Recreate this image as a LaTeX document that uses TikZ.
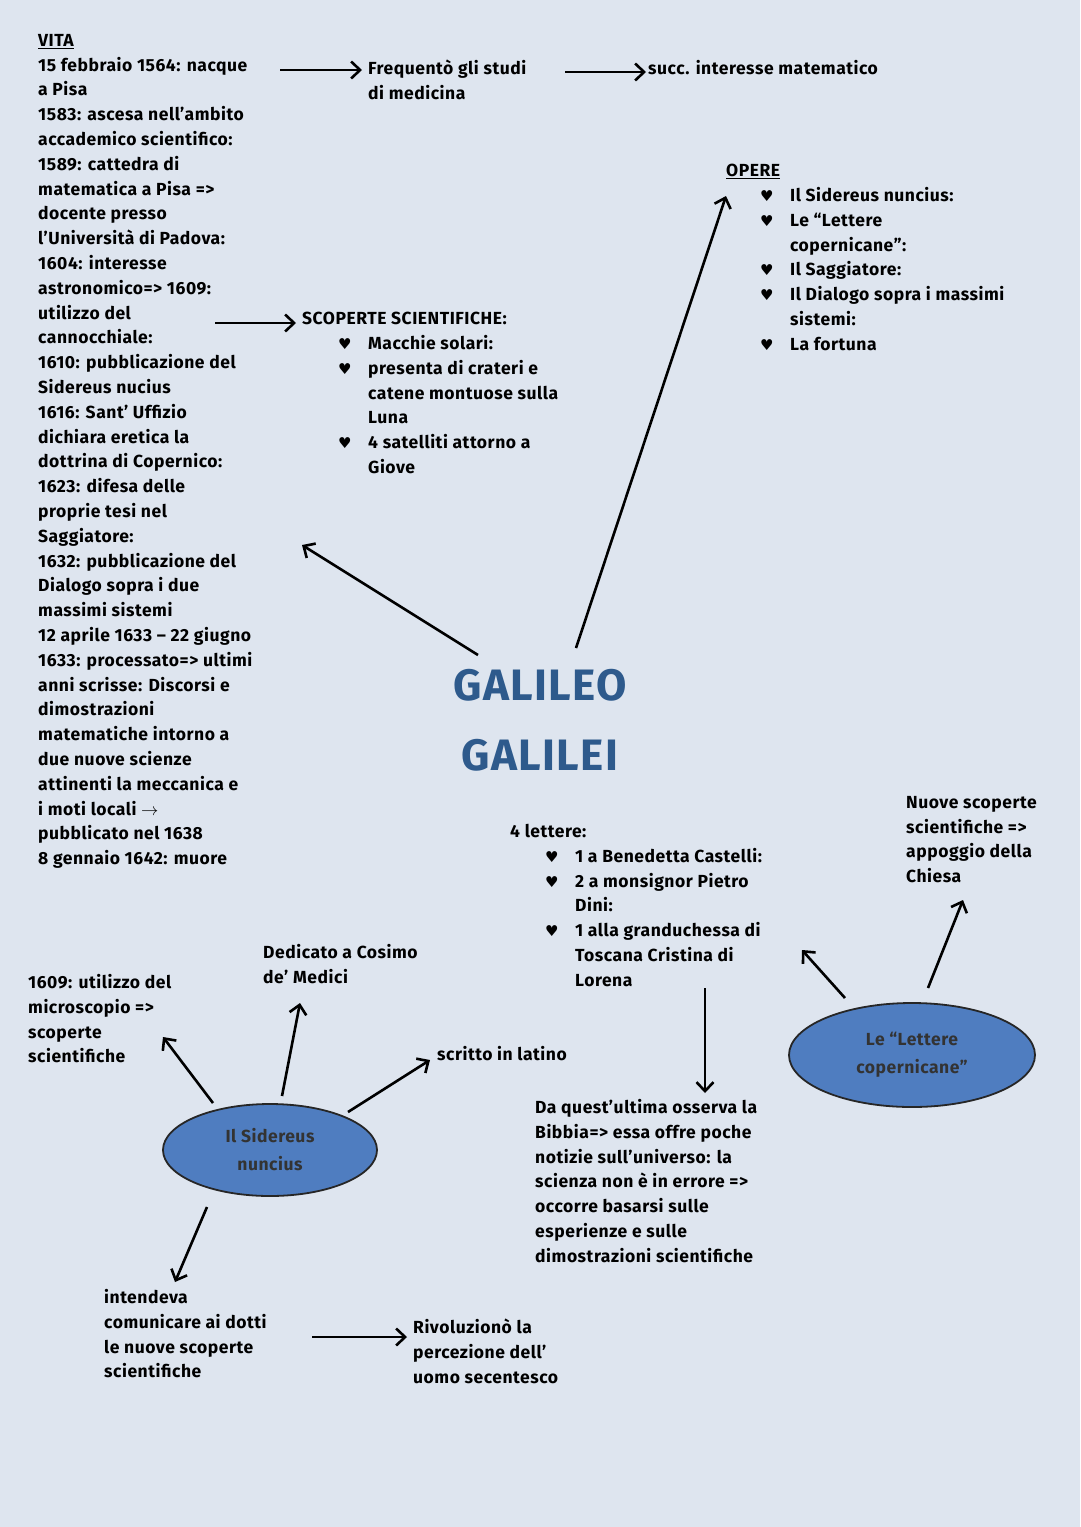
\documentclass[tikz,border=0pt]{standalone}
\usepackage{fontspec}
\setmainfont{Fira Sans}[LetterSpace=3]
\newfontfamily\symfont{DejaVu Sans}
\usetikzlibrary{arrows.meta,shapes.geometric}
\definecolor{bgblue}{HTML}{DEE5EF}
\definecolor{ellblue}{HTML}{4F7DC0}
\definecolor{titleblue}{HTML}{2E5A8C}
\newcommand{\bl}{\makebox[30pt][l]{\symfont\fontsize{15}{15}\selectfont ♥}}
\newcommand{\ind}{\hspace*{30pt}}
\tikzset{
  txt/.style={anchor=north west, align=left, inner sep=0pt, font=\fontsize{17.5}{24.8}\selectfont\bfseries},
  arrow/.style={line width=2.6pt, -{Straight Barb[length=9pt,width=17pt,line width=2.6pt]}},
  bubble/.style={ellipse, draw=black!85, line width=1.8pt, fill=ellblue, align=center,
    font=\fontsize{17.5}{28}\selectfont\bfseries, text=black!80}
}
\begin{document}
\begin{tikzpicture}[x=1pt,y=-1pt]
\fill[bgblue] (0,0) rectangle (1080,1527);
\useasboundingbox (0,0) rectangle (1080,1527);
% vita
\node (vita) [txt] at (38,34) {\underline{VITA}\\
15 febbraio 1564: nacque\\a Pisa\\1583: ascesa nell'ambito\\accademico scientifico:\\
1589: cattedra di\\matematica a Pisa =>\\docente presso\\l'Università di Padova:\\
1604: interesse\\astronomico=> 1609:\\utilizzo del\\cannocchiale:\\1610: pubblicazione del\\
Sidereus nucius\\1616: Sant' Uffizio\\dichiara eretica la\\dottrina di Copernico:\\
1623: difesa delle\\proprie tesi nel\\Saggiatore:\\1632: pubblicazione del\\
Dialogo sopra i due\\massimi sistemi\\12 aprile 1633 -- 22 giugno\\1633: processato=> ultimi\\
anni scrisse: Discorsi e\\dimostrazioni\\matematiche intorno a\\due nuove scienze\\
attinenti la meccanica e\\i moti locali $\rightarrow$\\pubblicato nel 1638\\8 gennaio 1642: muore};
\node (studi) [txt] at (368,60) {Frequentò gli studi\\di medicina};
\node (succ) [txt] at (648,60) {succ. interesse matematico};
\node (scoperte) [txt] at (302,312) {SCOPERTE SCIENTIFICHE:\\
\hspace*{36pt}\bl Macchie solari:\\\hspace*{36pt}\bl presenta di crateri e\\
\hspace*{36pt}\ind catene montuose sulla\\\hspace*{36pt}\ind Luna\\
\hspace*{36pt}\bl 4 satelliti attorno a\\\hspace*{36pt}\ind Giove};
\node (opere) [txt] at (726,164) {\underline{OPERE}\\
\hspace*{34pt}\bl Il Sidereus nuncius:\\\hspace*{34pt}\bl Le ``Lettere\\
\hspace*{34pt}\ind copernicane'':\\\hspace*{34pt}\bl Il Saggiatore:\\
\hspace*{34pt}\bl Il Dialogo sopra i massimi\\\hspace*{34pt}\ind sistemi:\\
\hspace*{34pt}\bl La fortuna};
% title
\node (galileo) [align=center, font=\fontsize{44}{70}\selectfont\bfseries, text=titleblue] at (540,720) {GALILEO\\GALILEI};
% lettere
\node (quattro) [txt] at (510,824) {4 lettere:\\
\hspace*{35pt}\bl 1 a Benedetta Castelli:\\\hspace*{35pt}\bl 2 a monsignor Pietro\\
\hspace*{35pt}\ind Dini:\\\hspace*{35pt}\bl 1 alla granduchessa di\\
\hspace*{35pt}\ind Toscana Cristina di\\\hspace*{35pt}\ind Lorena};
\node (nuove) [txt] at (906,796) {Nuove scoperte\\scientifiche =>\\appoggio della\\Chiesa};
\node (lettere) [bubble, minimum width=246pt, minimum height=104pt] at (912,1055) {Le ``Lettere\\copernicane''};
\node (quest) [txt] at (535,1099) {Da quest'ultima osserva la\\Bibbia=> essa offre poche\\
notizie sull'universo: la\\scienza non è in errore =>\\occorre basarsi sulle\\
esperienze e sulle\\dimostrazioni scientifiche};
% sidereus
\node (sidereus) [bubble, minimum width=214pt, minimum height=92pt] at (270,1150) {Il Sidereus\\nuncius};
\node (micro) [txt] at (28,974) {1609: utilizzo del\\microscopio =>\\scoperte\\scientifiche};
\node (dedicato) [txt] at (263,944) {Dedicato a Cosimo\\de' Medici};
\node (latino) [txt] at (437,1046) {scritto in latino};
\node (intendeva) [txt] at (104,1289) {intendeva\\comunicare ai dotti\\le nuove scoperte\\scientifiche};
\node (rivo) [txt] at (413,1319) {Rivoluzionò la\\percezione dell'\\uomo secentesco};
% arrow ends
\coordinate (v1) at (280,70); \coordinate (v2) at (215,323);
\coordinate (g1) at (478,655); \coordinate (g2) at (576,648);
\coordinate (g1e) at (302,545); \coordinate (g2e) at (726,196);
\coordinate (l1) at (845,998); \coordinate (l2) at (928,988);
\draw[arrow] (v1) -- ([xshift=-6pt]studi.west |- v1);
\draw[arrow] (565,72) -- ([xshift=-2pt]succ.west |- 0,72);
\draw[arrow] (v2) -- ([xshift=-6pt]scoperte.west |- v2);
\draw[arrow] (g1) -- (g1e);
\draw[arrow] (g2) -- (g2e);
\draw[arrow] (213,1103) -- (163,1037);
\draw[arrow] (282,1096) -- (300,1003);
\draw[arrow] (348,1112) -- (430,1060);
\draw[arrow] (207,1207) -- (175,1282);
\draw[arrow] (312,1337) -- ([xshift=-6pt]rivo.west |- 0,1337);
\draw[arrow] (705,988) -- (705,1093);
\draw[arrow] (l1) -- (802,950);
\draw[arrow] (l2) -- (963,900);
\end{tikzpicture}
\end{document}
